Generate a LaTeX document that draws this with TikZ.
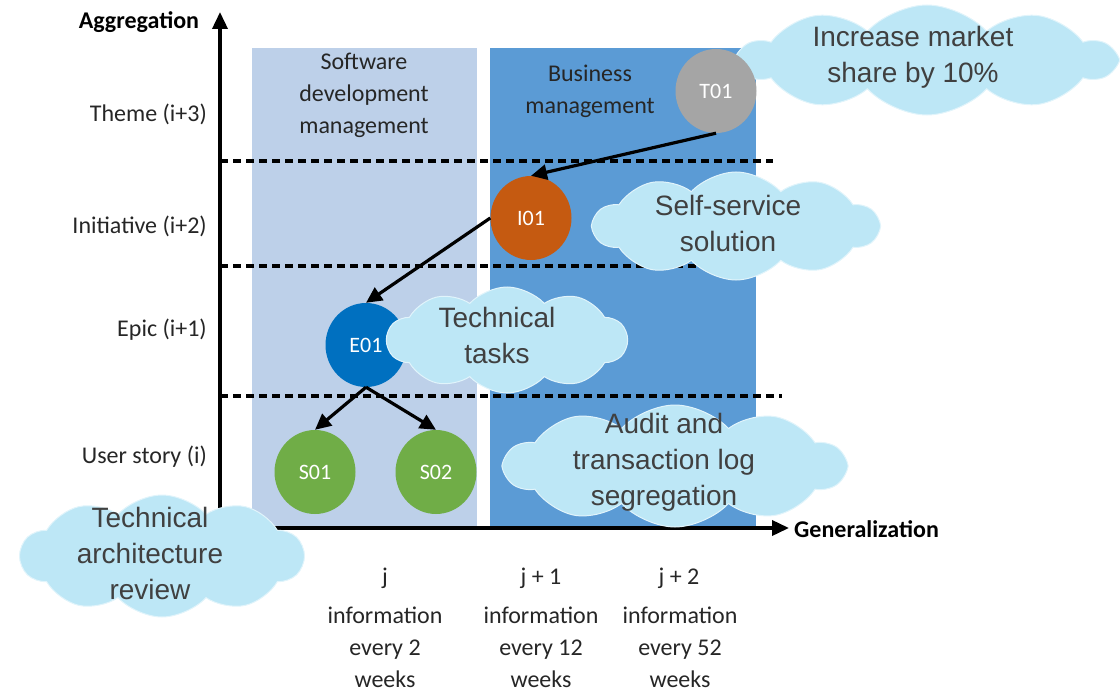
\documentclass[tikz,border=0pt]{standalone}
\usepackage{fontspec}
\setmainfont{Carlito}
\newfontfamily\cloudfont{Liberation Sans}
\usetikzlibrary{shapes.geometric,shapes.symbols,arrows.meta}
\definecolor{panelL}{HTML}{BDD0E9}
\definecolor{panelD}{HTML}{5B9BD5}
\definecolor{cloudc}{HTML}{BDE7F6}
\definecolor{txtg}{HTML}{404040}
\definecolor{cT}{HTML}{A5A5A5}
\definecolor{cI}{HTML}{C55A11}
\definecolor{cE}{HTML}{0070C0}
\definecolor{cS}{HTML}{70AD47}
\begin{document}
\begin{tikzpicture}[x=1pt,y=-1pt,
 lbl/.style={font=\fontsize{24}{32}\selectfont, text=black!85, align=center, inner sep=0},
 rowlbl/.style={lbl, anchor=east},
 axislbl/.style={font=\fontsize{24}{28}\selectfont\bfseries, inner sep=0},
 item/.style={ellipse, minimum width=81pt, minimum height=84pt, inner sep=0, text=white, font=\fontsize{22}{26}\selectfont},
 dline/.style={line width=3.8pt, dash pattern=on 8pt off 5pt},
 axisline/.style={line width=3.6pt, -{Triangle[length=17pt,width=15pt]}},
 link/.style={line width=3.2pt, -{Triangle[length=16pt,width=15pt]}},
 cloudbg/.style={cloud, cloud puffs=10, cloud puff arc=95, cloud ignores aspect, fill=cloudc, draw=white!55!cloudc, line width=1pt, inner sep=0},
 cloudtxt/.style={font=\cloudfont\fontsize{28}{36}\selectfont, text=txtg, align=center, inner sep=0}
]
\useasboundingbox (0,0) rectangle (1120,693);
% panels
\fill[panelL] (252,48) rectangle (477,528);
\fill[panelD] (490,48) rectangle (756,528);
% dashed level lines
\coordinate (d1a) at (220,161); \coordinate (d1b) at (773,161);
\coordinate (d2a) at (220,266); \coordinate (d2b) at (700,266);
\coordinate (d3a) at (220,396); \coordinate (d3b) at (782,396);
\draw[dline] (d1a) -- (d1b);
\draw[dline] (d2a) -- (d2b);
\draw[dline] (d3a) -- (d3b);
% axes
\coordinate (O) at (220,528);
\coordinate (ytip) at (220,12);
\coordinate (xtip) at (789,528);
\draw[axisline] (O) -- (ytip);
\draw[axisline] (O) -- (xtip);
\node[axislbl] (agg) at (139,22) {Aggregation};
\node[axislbl, anchor=west] (gen) at (794,529) {Generalization};
% row labels
\node[rowlbl] (r3) at (207,114) {Theme (i+3)};
\node[rowlbl] (r2) at (207,226) {Initiative (i+2)};
\node[rowlbl] (r1) at (207,330) {Epic (i+1)};
\node[rowlbl] (r0) at (207,457) {User story (i)};
% panel labels
\node[lbl] (swlbl) at (364,95) {Software\\development\\management};
\node[lbl] (bmlbl) at (590,91) {Business\\management};
% cloud behind T01
\node[cloudbg, minimum width=375pt, minimum height=110pt] (c1) at (927,60) {};
% items
\node[item, fill=cT] (T01) at (716,91) {T01};
\node[item, fill=cI] (I01) at (531,218) {I01};
\node[item, fill=cE] (E01) at (366,345) {E01};
\node[item, fill=cS] (S01) at (315,472) {S01};
\node[item, fill=cS] (S02) at (436,472) {S02};
% links
\draw[link] (T01.south) -- (I01.north);
\draw[link] (I01.west) -- (E01.north);
\draw[link] (E01.south) -- (S01.north);
\draw[link] (E01.south) -- (S02.north);
% clouds
\node[cloudbg, minimum width=285pt, minimum height=108pt] (c2) at (736,226) {};
\node[cloudbg, minimum width=240pt, minimum height=106pt] (c3) at (507,340) {};
\node[cloudbg, minimum width=340pt, minimum height=122pt] (c4) at (675,466) {};
\node[cloudbg, minimum width=283pt, minimum height=122pt] (c5) at (162,556) {};
\node[cloudtxt] (c1t) at (913,57) {Increase market\\share by 10\%};
\node[cloudtxt] (c2t) at (728,223) {Self-service\\solution};
\node[cloudtxt] (c3t) at (497,335) {Technical\\tasks};
\node[cloudtxt] (c4t) at (664,462) {Audit and\\transaction log\\segregation};
\node[cloudtxt] (c5t) at (150,553) {Technical\\architecture\\review};
% bottom labels
\node[lbl] (j0) at (385,578) {j};
\node[lbl] (j1) at (541,578) {j + 1};
\node[lbl] (j2) at (679,578) {j + 2};
\node[lbl] (f0) at (385,647) {information\\every 2\\weeks};
\node[lbl] (f1) at (541,647) {information\\every 12\\weeks};
\node[lbl] (f2) at (680,647) {information\\every 52\\weeks};
\end{tikzpicture}
\end{document}
